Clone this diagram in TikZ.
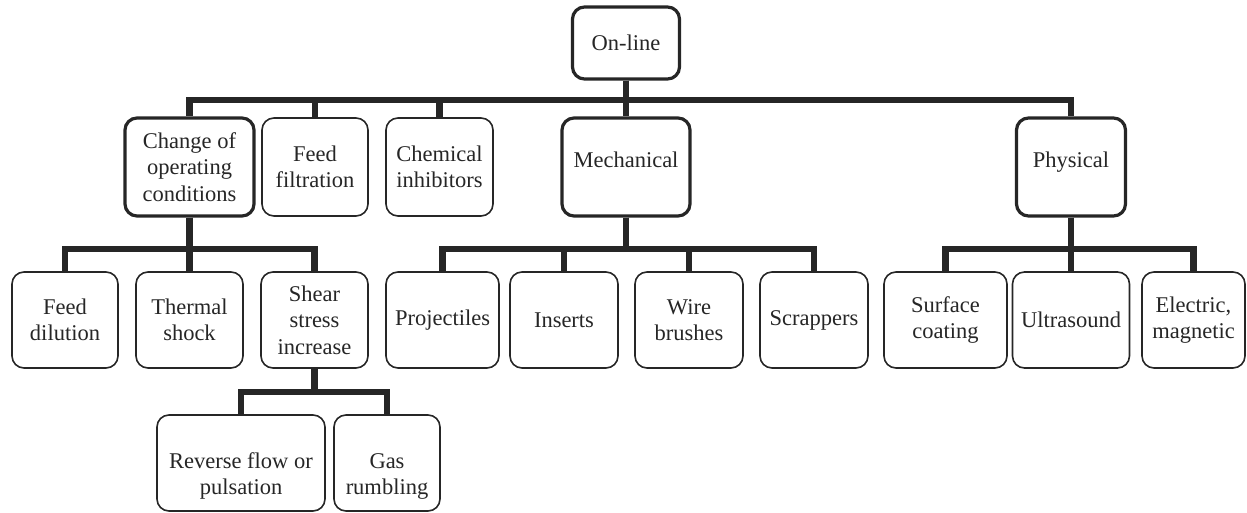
\documentclass[tikz,border=0pt]{standalone}
\usepackage{fontspec}
\setmainfont{Liberation Serif}

\tikzset{
  box/.style={draw=black!85, line width=1.6pt, rounded corners=12pt, align=center,
    inner sep=0pt, text=black!85, font=\fontsize{22.5}{26.5}\selectfont},
  boldbox/.style={box, line width=3.2pt},
  bus/.style={draw=black!85, line width=6.5pt},
}

\begin{document}
\begin{tikzpicture}[x=1pt,y=-1pt]
  \useasboundingbox (0,0) rectangle (1247,512);

  % Root
  \node[boldbox, minimum width=107, minimum height=72] (online) at (626,43) {On-line};

  % First level
  \node[boldbox, minimum width=129, minimum height=98] (chg) at (189.5,167) {Change of\\operating\\conditions};
  \node[box, minimum width=106, minimum height=98] (filt) at (315,167) {Feed\\filtration};
  \node[box, minimum width=107, minimum height=98] (chem) at (439.5,167) {Chemical\\inhibitors};
  \node[boldbox, minimum width=128, minimum height=98, text depth=15pt] (mech) at (626,167) {Mechanical};
  \node[boldbox, minimum width=109, minimum height=98, text depth=15pt] (phys) at (1071,167) {Physical};

  % Second level
  \node[box, minimum width=106, minimum height=96] (dil) at (65,320) {Feed\\dilution};
  \node[box, minimum width=107, minimum height=96] (therm) at (189.5,320) {Thermal\\shock};
  \node[box, minimum width=107, minimum height=96] (shear) at (314.5,320) {Shear\\stress\\increase};
  \node[box, minimum width=113, minimum height=96] (proj) at (442.5,320) {Projectiles};
  \node[box, minimum width=108, minimum height=96] (ins) at (564,320) {Inserts};
  \node[box, minimum width=108, minimum height=96] (wire) at (689,320) {Wire\\brushes};
  \node[box, minimum width=108, minimum height=96] (scrap) at (814,320) {Scrappers};
  \node[box, minimum width=123, minimum height=96] (surf) at (945.5,320) {Surface\\coating};
  \node[box, minimum width=117, minimum height=96] (ultra) at (1071,320) {Ultrasound};
  \node[box, minimum width=103, minimum height=96] (elec) at (1193.5,320) {Electric,\\magnetic};

  % Third level
  \node[box, minimum width=168, minimum height=96, text height=68pt] (rev) at (241,463) {Reverse flow or\\pulsation};
  \node[box, minimum width=106, minimum height=96, text height=68pt] (gas) at (387,463) {Gas\\rumbling};

  % Buses
  \coordinate (b1) at (0,100);
  \coordinate (b2) at (0,249);
  \coordinate (b3) at (0,392);

  \foreach \n in {chg,filt,chem,mech,phys}
    \draw[bus] (online.south) -- (online.south |- b1) -| (\n.north);
  \foreach \n in {dil,therm,shear}
    \draw[bus] (chg.south) -- (chg.south |- b2) -| (\n.north);
  \foreach \n in {proj,ins,wire,scrap}
    \draw[bus] (mech.south) -- (mech.south |- b2) -| (\n.north);
  \foreach \n in {surf,ultra,elec}
    \draw[bus] (phys.south) -- (phys.south |- b2) -| (\n.north);
  \foreach \n in {rev,gas}
    \draw[bus] (shear.south) -- (shear.south |- b3) -| (\n.north);

\end{tikzpicture}
\end{document}
